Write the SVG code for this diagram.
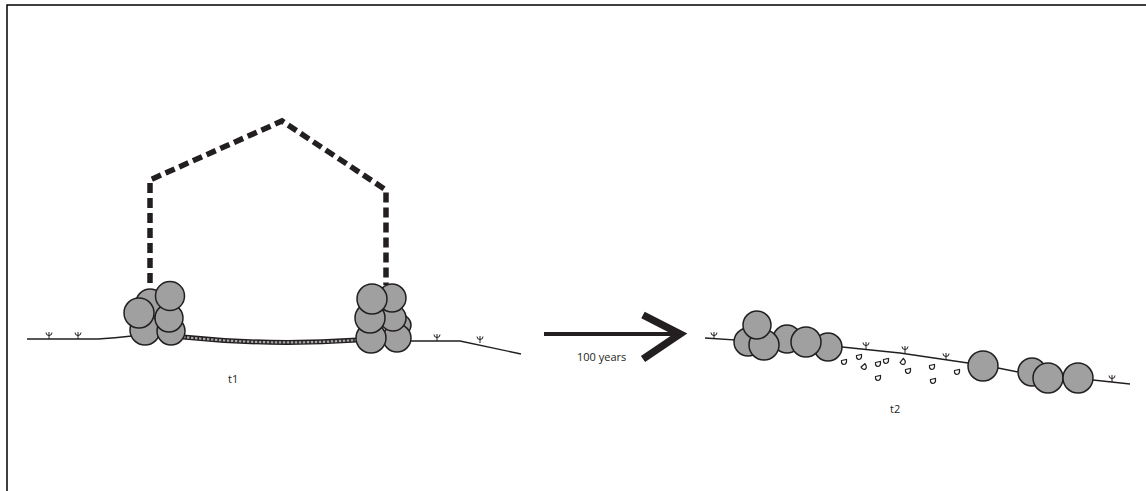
<svg xmlns="http://www.w3.org/2000/svg" width="1146" height="491" viewBox="0 0 1146 491">
  <defs>
    <style>
      .frame { fill: none; stroke: #000; stroke-width: 1.5; }
      .ground { fill: none; stroke: #231f20; stroke-width: 1.3; stroke-linejoin: round; }
      .stone { fill: #a0a0a0; stroke: #231f20; stroke-width: 1.5; }
      .roof { fill: none; stroke: #231f20; stroke-width: 5.5; stroke-dasharray: 10 5; }
      .grass { fill: none; stroke: #231f20; stroke-width: 1; }
      .pebble { fill: #fff; stroke: #231f20; stroke-width: 1.2; }
      .chain { fill: none; stroke: #231f20; stroke-width: 5; }
      .links { fill: none; stroke: #a8a8a8; stroke-width: 2.2; stroke-dasharray: 2.5 1.5; }
      .label { font-family: "Open Sans", "Liberation Sans", sans-serif; font-size: 11px; fill: #231f20; }
    </style>
    <!-- tuft of grass, anchored at its foot on the ground line -->
    <path id="tuft" class="grass" d="M0,0 V-7 M-3,-6.5 Q-3,-3.5 0,-3.5 Q3,-3.5 3,-6.5"/>
    <!-- small teardrop pebble -->
    <path id="drop" class="pebble" d="M-2.5,-1.5 L2.5,-2.5 Q3,2 0,2.5 Q-3,2 -2.5,-1.5 Z"/>
  </defs>

  <!-- border -->
  <path class="frame" d="M7,491 V5 H1146"/>

  <!-- t1: standing structure -->
  <g id="t1-ground">
    <path class="ground" d="M27,339 H98 Q115,338 132,336"/>
    <path class="ground" d="M408,341 H460 L521,354"/>
    <use href="#tuft" x="49" y="339"/>
    <use href="#tuft" x="78" y="339"/>
    <use href="#tuft" x="437" y="341"/>
    <use href="#tuft" x="480" y="343"/>
  </g>

  <g id="t1-roof">
    <path class="roof" d="M150,283 V180 L282,121 L386,190 V285"/>
  </g>

  <g id="t1-chain">
    <path class="chain" d="M183,337 Q270,346 357,340"/>
    <path class="links" d="M183,337 Q270,346 357,340"/>
  </g>

  <g id="t1-left-cluster">
    <circle class="stone" cx="150" cy="303" r="14"/>
    <circle class="stone" cx="145" cy="330" r="15"/>
    <circle class="stone" cx="171" cy="331" r="14"/>
    <circle class="stone" cx="169" cy="318" r="14"/>
    <circle class="stone" cx="170" cy="296" r="14.5"/>
    <circle class="stone" cx="139" cy="313" r="15"/>
  </g>

  <g id="t1-right-cluster">
    <circle class="stone" cx="401" cy="325" r="10"/>
    <circle class="stone" cx="397" cy="338" r="14"/>
    <circle class="stone" cx="393" cy="318" r="13"/>
    <circle class="stone" cx="392" cy="298" r="14"/>
    <circle class="stone" cx="371" cy="338" r="15"/>
    <circle class="stone" cx="370" cy="318" r="15"/>
    <circle class="stone" cx="372" cy="299" r="15"/>
  </g>

  <text class="label" x="228" y="383">t1</text>

  <!-- time arrow -->
  <g id="arrow">
    <path d="M544,334 H678" stroke="#231f20" stroke-width="4" fill="none"/>
    <path d="M643,315 L680,334 L643,359" stroke="#231f20" stroke-width="7.5" fill="none" stroke-linejoin="miter"/>
    <text class="label" x="577" y="361">100 years</text>
  </g>

  <!-- t2: collapsed remains on the slope -->
  <g id="t2-ground">
    <path class="ground" d="M705,338 L842,347 L900,353 L968,363"/>
    <path class="ground" d="M998,368 L1018,372"/>
    <path class="ground" d="M1093,380 L1130,384"/>
    <use href="#tuft" x="714" y="339"/>
    <use href="#tuft" x="866" y="349"/>
    <use href="#tuft" x="905" y="353"/>
    <use href="#tuft" x="946" y="360"/>
    <use href="#tuft" x="1112" y="382"/>
  </g>

  <g id="t2-pebbles">
    <use href="#drop" x="844" y="362"/>
    <use href="#drop" x="859" y="357"/>
    <use href="#drop" x="864" y="367" transform="rotate(-30 864 367)"/>
    <use href="#drop" x="878" y="364"/>
    <use href="#drop" x="886" y="361"/>
    <use href="#drop" x="903" y="362" transform="rotate(-40 903 362)"/>
    <use href="#drop" x="878" y="378"/>
    <use href="#drop" x="908" y="371"/>
    <use href="#drop" x="932" y="367"/>
    <use href="#drop" x="933" y="381"/>
    <use href="#drop" x="957" y="372"/>
  </g>

  <g id="t2-stones-upper">
    <circle class="stone" cx="787" cy="339" r="14"/>
    <circle class="stone" cx="828" cy="347" r="14"/>
    <circle class="stone" cx="806" cy="342" r="15"/>
    <circle class="stone" cx="748" cy="342" r="14"/>
    <circle class="stone" cx="764" cy="345" r="15"/>
    <circle class="stone" cx="757" cy="325" r="14"/>
  </g>

  <g id="t2-stones-lower">
    <circle class="stone" cx="983" cy="366" r="15"/>
    <circle class="stone" cx="1032" cy="372" r="14"/>
    <circle class="stone" cx="1048" cy="378" r="15"/>
    <circle class="stone" cx="1078" cy="378" r="15"/>
  </g>

  <text class="label" x="890" y="413">t2</text>
</svg>
